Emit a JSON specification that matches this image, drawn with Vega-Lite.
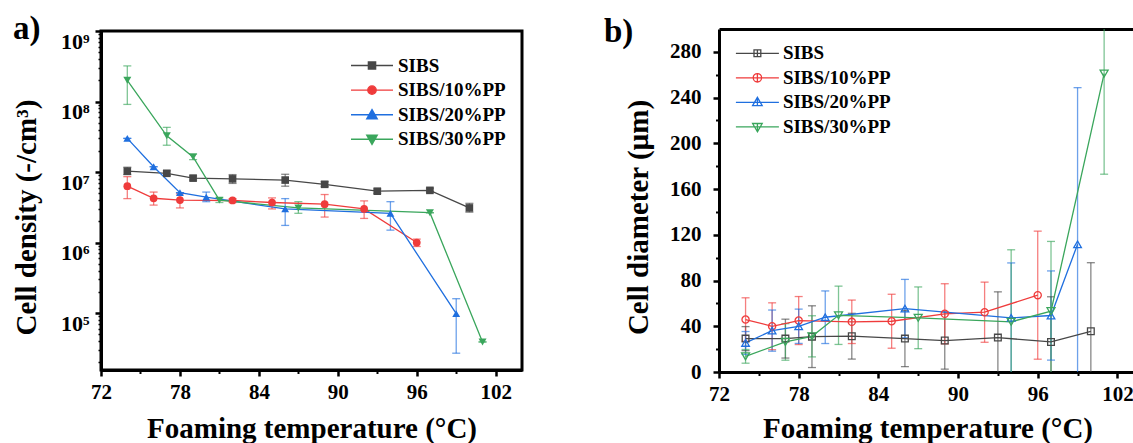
{
  "$schema": "https://vega.github.io/schema/vega-lite/v6.json",
  "background": "white",
  "padding": {"left": 10, "top": 11, "right": 0, "bottom": 0},
  "spacing": 197,
  "bounds": "flush",
  "center": true,
  "resolve": {"scale": {"color": "independent", "shape": "independent", "size": "independent", "fill": "independent", "stroke": "independent"}, "legend": {"color": "independent", "shape": "independent", "size": "independent", "fill": "independent", "stroke": "independent"}},
  "config": {
    "font": "Liberation Serif",
    "view": {"stroke": "black", "strokeWidth": 3},
    "axis": {"grid": false, "domainColor": "black", "domainWidth": 3, "tickColor": "black", "tickWidth": 2.5, "tickSize": 6,
      "labelFont": "Liberation Serif", "labelFontSize": 21, "labelFontWeight": "bold", "labelColor": "black",
      "titleFont": "Liberation Serif", "titleFontSize": 29, "titleFontWeight": "bold", "titleColor": "black",
      "labelFlush": false, "labelOverlap": false},
    "legend": {"labelFont": "Liberation Serif", "labelFontSize": 19, "labelFontWeight": "bold", "labelColor": "black", "padding": 0, "offset": 0, "symbolOffset": 0},
    "title": {"font": "Liberation Serif", "fontWeight": "bold", "color": "black", "fontSize": 33}
  },
  "datasets": {
    "density": [
      {"s": "SIBS", "T": 74, "v": 10300000, "lo": 9200000, "hi": 11700000},
      {"s": "SIBS", "T": 77, "v": 9600000, "lo": 8900000, "hi": 10400000},
      {"s": "SIBS", "T": 79, "v": 8200000, "lo": 7700000, "hi": 8800000},
      {"s": "SIBS", "T": 82, "v": 8000000, "lo": 6900000, "hi": 9200000},
      {"s": "SIBS", "T": 86, "v": 7700000, "lo": 6300000, "hi": 9300000},
      {"s": "SIBS", "T": 89, "v": 6700000, "lo": 6200000, "hi": 7300000},
      {"s": "SIBS", "T": 93, "v": 5350000, "lo": 5000000, "hi": 5750000},
      {"s": "SIBS", "T": 97, "v": 5500000, "lo": 5200000, "hi": 5900000},
      {"s": "SIBS", "T": 100, "v": 3100000, "lo": 2700000, "hi": 3600000},
      {"s": "SIBS/10%PP", "T": 74, "v": 6300000, "lo": 4200000, "hi": 8600000},
      {"s": "SIBS/10%PP", "T": 76, "v": 4250000, "lo": 3400000, "hi": 5200000},
      {"s": "SIBS/10%PP", "T": 78, "v": 4000000, "lo": 3100000, "hi": 4900000},
      {"s": "SIBS/10%PP", "T": 82, "v": 3950000, "lo": 3700000, "hi": 4200000},
      {"s": "SIBS/10%PP", "T": 85, "v": 3700000, "lo": 3000000, "hi": 4300000},
      {"s": "SIBS/10%PP", "T": 89, "v": 3500000, "lo": 2300000, "hi": 4800000},
      {"s": "SIBS/10%PP", "T": 92, "v": 3000000, "lo": 2200000, "hi": 3900000},
      {"s": "SIBS/10%PP", "T": 96, "v": 1000000, "lo": 880000, "hi": 1120000},
      {"s": "SIBS/20%PP", "T": 74, "v": 30000000, "lo": 30000000, "hi": 30000000},
      {"s": "SIBS/20%PP", "T": 76, "v": 11900000, "lo": 11900000, "hi": 11900000},
      {"s": "SIBS/20%PP", "T": 78, "v": 5100000, "lo": 5100000, "hi": 5100000},
      {"s": "SIBS/20%PP", "T": 80, "v": 4400000, "lo": 3800000, "hi": 5200000},
      {"s": "SIBS/20%PP", "T": 86, "v": 3000000, "lo": 1750000, "hi": 4200000},
      {"s": "SIBS/20%PP", "T": 94, "v": 2600000, "lo": 1500000, "hi": 3800000},
      {"s": "SIBS/20%PP", "T": 99, "v": 98000, "lo": 27000, "hi": 160000},
      {"s": "SIBS/30%PP", "T": 74, "v": 200000000, "lo": 91000000, "hi": 320000000},
      {"s": "SIBS/30%PP", "T": 77, "v": 32700000, "lo": 24000000, "hi": 43000000},
      {"s": "SIBS/30%PP", "T": 79, "v": 16400000, "lo": 15000000, "hi": 18000000},
      {"s": "SIBS/30%PP", "T": 81, "v": 4000000, "lo": 3700000, "hi": 4300000},
      {"s": "SIBS/30%PP", "T": 87, "v": 3100000, "lo": 2600000, "hi": 3800000},
      {"s": "SIBS/30%PP", "T": 97, "v": 2650000, "lo": 2650000, "hi": 2650000},
      {"s": "SIBS/30%PP", "T": 101, "v": 39000, "lo": 39000, "hi": 39000}
    ],
    "diameter": [
      {"s": "SIBS", "T": 74, "v": 29.2, "lo": 18.7, "hi": 39.7},
      {"s": "SIBS", "T": 77, "v": 29.2, "lo": 12.2, "hi": 46.2},
      {"s": "SIBS", "T": 79, "v": 30.9, "lo": 3.9, "hi": 57.9},
      {"s": "SIBS", "T": 82, "v": 31.3, "lo": 11.3, "hi": 51.3},
      {"s": "SIBS", "T": 86, "v": 29.2, "lo": 4.7, "hi": 53.7},
      {"s": "SIBS", "T": 89, "v": 27.5, "lo": 2.5, "hi": 52.5},
      {"s": "SIBS", "T": 93, "v": 30.1, "lo": -9.9, "hi": 70.1},
      {"s": "SIBS", "T": 97, "v": 26.3, "lo": -13.2, "hi": 65.8},
      {"s": "SIBS", "T": 100, "v": 35.6, "lo": -24.4, "hi": 95.6},
      {"s": "SIBS/10%PP", "T": 74, "v": 45.9, "lo": 26.9, "hi": 64.9},
      {"s": "SIBS/10%PP", "T": 76, "v": 40.0, "lo": 19.5, "hi": 60.5},
      {"s": "SIBS/10%PP", "T": 78, "v": 45.0, "lo": 24.0, "hi": 66.0},
      {"s": "SIBS/10%PP", "T": 82, "v": 43.9, "lo": 24.9, "hi": 62.9},
      {"s": "SIBS/10%PP", "T": 85, "v": 44.4, "lo": 20.8, "hi": 68.0},
      {"s": "SIBS/10%PP", "T": 89, "v": 50.9, "lo": 24.6, "hi": 77.2},
      {"s": "SIBS/10%PP", "T": 92, "v": 52.3, "lo": 26.0, "hi": 78.6},
      {"s": "SIBS/10%PP", "T": 96, "v": 67.2, "lo": 11.2, "hi": 123.2},
      {"s": "SIBS/20%PP", "T": 74, "v": 25.4, "lo": 15.4, "hi": 35.4},
      {"s": "SIBS/20%PP", "T": 76, "v": 36.2, "lo": 18.2, "hi": 54.2},
      {"s": "SIBS/20%PP", "T": 78, "v": 40.0, "lo": 25.0, "hi": 55.0},
      {"s": "SIBS/20%PP", "T": 80, "v": 47.9, "lo": 24.9, "hi": 70.9},
      {"s": "SIBS/20%PP", "T": 86, "v": 55.5, "lo": 30.0, "hi": 81.0},
      {"s": "SIBS/20%PP", "T": 94, "v": 47.4, "lo": -0.6, "hi": 95.4},
      {"s": "SIBS/20%PP", "T": 97, "v": 49.4, "lo": 10.4, "hi": 88.4},
      {"s": "SIBS/20%PP", "T": 99, "v": 111.7, "lo": -25.3, "hi": 248.7},
      {"s": "SIBS/30%PP", "T": 74, "v": 13.7, "lo": 7.7, "hi": 19.7},
      {"s": "SIBS/30%PP", "T": 77, "v": 26.3, "lo": 10.3, "hi": 42.3},
      {"s": "SIBS/30%PP", "T": 79, "v": 31.2, "lo": 13.2, "hi": 49.2},
      {"s": "SIBS/30%PP", "T": 81, "v": 49.6, "lo": 24.1, "hi": 75.1},
      {"s": "SIBS/30%PP", "T": 87, "v": 47.4, "lo": 20.4, "hi": 74.4},
      {"s": "SIBS/30%PP", "T": 94, "v": 43.9, "lo": -19.1, "hi": 106.9},
      {"s": "SIBS/30%PP", "T": 97, "v": 53.2, "lo": -7.8, "hi": 114.2},
      {"s": "SIBS/30%PP", "T": 101, "v": 261, "lo": 173, "hi": 349}
    ]
  },
  "hconcat": [
    {
      "width": 421,
      "height": 339,
      "data": {"name": "density"},
      "title": {"text": "a)", "anchor": "start", "frame": "group", "dx": -88, "offset": -42, "baseline": "alphabetic"},
      "resolve": {"axis": {"x": "independent", "y": "independent"}, "scale": {"shape": "independent", "size": "independent"},
        "legend": {"color": "independent", "shape": "independent", "size": "independent", "fill": "independent", "stroke": "independent"}},
      "layer": [
        {
          "mark": {"type": "rule", "strokeWidth": 1.3, "opacity": 0.65},
          "encoding": {
            "x": {"field": "T", "type": "quantitative", "scale": {"domain": [72, 104], "nice": false, "zero": false},
              "axis": {"orient": "bottom", "values": [72, 78, 84, 90, 96, 102], "title": "Foaming temperature (°C)", "titlePadding": 12, "labelPadding": 5}},
            "y": {"field": "lo", "type": "quantitative", "scale": {"type": "log", "domain": [15600, 1000000000], "nice": false},
              "axis": {"orient": "left", "values": [100000, 1000000, 10000000, 100000000, 1000000000], "title": "Cell density (-/cm³)", "titlePadding": 19, "titleY": 186, "labelPadding": 6, "labelOffset": 10, "labelFontSize": 22,
                "labelExpr": "datum.value >= 5e8 ? '10⁹' : datum.value >= 5e7 ? '10⁸' : datum.value >= 5e6 ? '10⁷' : datum.value >= 5e5 ? '10⁶' : '10⁵'"}},
            "y2": {"field": "hi"},
            "color": {"field": "s", "type": "nominal", "scale": {"domain": ["SIBS", "SIBS/10%PP", "SIBS/20%PP", "SIBS/30%PP"], "range": ["#474747", "#ef3b3b", "#1f6fdf", "#3aa65c"]}, "legend": null}
          }
        },
        {
          "mark": {"type": "rule", "strokeWidth": 1.3, "opacity": 0.65, "xOffset": -4, "x2Offset": 4},
          "encoding": {
            "x": {"field": "T", "type": "quantitative", "axis": {"orient": "bottom", "values": [75, 81, 87, 93, 99], "labels": false, "domain": false, "tickSize": 3.5, "tickWidth": 2, "title": null}},
            "x2": {"field": "T"},
            "y": {"field": "lo", "type": "quantitative", "axis": {"orient": "left", "labels": false, "domain": false, "tickSize": 3, "tickWidth": 1.5, "title": null,
              "values": [20000, 30000, 40000, 50000, 60000, 70000, 80000, 90000, 200000, 300000, 400000, 500000, 600000, 700000, 800000, 900000, 2000000, 3000000, 4000000, 5000000, 6000000, 7000000, 8000000, 9000000, 20000000, 30000000, 40000000, 50000000, 60000000, 70000000, 80000000, 90000000, 200000000, 300000000, 400000000, 500000000, 600000000, 700000000, 800000000, 900000000]}},
            "color": {"field": "s", "type": "nominal", "legend": null}
          }
        },
        {
          "mark": {"type": "rule", "strokeWidth": 1.3, "opacity": 0.65, "xOffset": -4, "x2Offset": 4},
          "encoding": {
            "x": {"field": "T", "type": "quantitative", "axis": null},
            "x2": {"field": "T"},
            "y": {"field": "hi", "type": "quantitative", "axis": null},
            "color": {"field": "s", "type": "nominal", "legend": null}
          }
        },
        {
          "mark": {"type": "line", "strokeWidth": 1.3},
          "encoding": {
            "x": {"field": "T", "type": "quantitative", "axis": null},
            "y": {"field": "v", "type": "quantitative", "axis": null},
            "color": {"field": "s", "type": "nominal", "legend": null}
          }
        },
        {
          "mark": {"type": "point", "filled": true, "opacity": 1},
          "encoding": {
            "x": {"field": "T", "type": "quantitative", "axis": null},
            "y": {"field": "v", "type": "quantitative", "axis": null},
            "shape": {"field": "s", "type": "nominal", "scale": {"domain": ["SIBS", "SIBS/10%PP", "SIBS/20%PP", "SIBS/30%PP"], "range": ["square", "circle", "triangle-up", "triangle-down"]}, "legend": null},
            "size": {"field": "s", "type": "nominal", "scale": {"domain": ["SIBS", "SIBS/10%PP", "SIBS/20%PP", "SIBS/30%PP"], "range": [58, 64, 105, 115]}, "legend": null},
            "color": {"field": "s", "type": "nominal", "legend": null}
          }
        },
        {
          "transform": [{"filter": "false"}],
          "mark": {"type": "point", "filled": true},
          "encoding": {
            "x": {"field": "T", "type": "quantitative", "axis": null},
            "y": {"field": "v", "type": "quantitative", "axis": null},
            "fill": {"field": "s", "type": "nominal", "scale": {"domain": ["SIBS", "SIBS/10%PP", "SIBS/20%PP", "SIBS/30%PP"], "range": ["#474747", "#ef3b3b", "#1f6fdf", "#3aa65c"]},
              "legend": {"orient": "none", "legendX": 260, "legendY": 23.5, "title": null, "symbolSize": 400, "symbolStrokeWidth": 1.4, "symbolOpacity": 1, "labelOffset": 15, "rowPadding": 3.6}},
            "stroke": {"field": "s", "type": "nominal", "scale": {"domain": ["SIBS", "SIBS/10%PP", "SIBS/20%PP", "SIBS/30%PP"], "range": ["#474747", "#ef3b3b", "#1f6fdf", "#3aa65c"]},
              "legend": {"orient": "none", "legendX": 260, "legendY": 23.5, "title": null, "symbolSize": 400, "symbolStrokeWidth": 1.4, "symbolOpacity": 1, "labelOffset": 15, "rowPadding": 3.6}},
            "shape": {"field": "s", "type": "nominal", "scale": {"domain": ["SIBS", "SIBS/10%PP", "SIBS/20%PP", "SIBS/30%PP"],
              "range": ["M-2.1,0H2.1M-0.36,-0.36H0.36V0.36H-0.36Z", "M-2.1,0H2.1M0.42,0A0.42,0.42,0,1,1,-0.42,0A0.42,0.42,0,1,1,0.42,0Z", "M-2.1,0H2.1M0,-0.5L0.52,0.4L-0.52,0.4Z", "M-2.1,0H2.1M0,0.5L0.52,-0.4L-0.52,-0.4Z"]},
              "legend": {"orient": "none", "legendX": 260, "legendY": 23.5, "title": null, "symbolSize": 400, "symbolStrokeWidth": 1.4, "symbolOpacity": 1, "labelOffset": 15, "rowPadding": 3.6}}
          }
        }
      ]
    },
    {
      "width": 417,
      "height": 343,
      "data": {"name": "diameter"},
      "view": {"stroke": null},
      "title": {"text": "b)", "anchor": "start", "frame": "group", "dx": -115, "offset": -46, "baseline": "alphabetic"},
      "resolve": {"axis": {"x": "independent", "y": "independent"}, "scale": {"shape": "independent", "size": "independent"},
        "legend": {"color": "independent", "shape": "independent", "size": "independent", "fill": "independent", "stroke": "independent"}},
      "layer": [
        {
          "mark": {"type": "rule", "strokeWidth": 1.3, "opacity": 0.65, "clip": true},
          "encoding": {
            "x": {"field": "T", "type": "quantitative", "scale": {"domain": [72, 103.4], "nice": false, "zero": false},
              "axis": {"orient": "bottom", "values": [72, 78, 84, 90, 96, 102], "title": "Foaming temperature (°C)", "titlePadding": 10, "labelPadding": 5}},
            "y": {"field": "lo", "type": "quantitative", "scale": {"domain": [0, 300], "nice": false},
              "axis": {"orient": "left", "values": [0, 40, 80, 120, 160, 200, 240, 280], "title": "Cell diameter (µm)", "titlePadding": 16, "titleY": 188, "labelPadding": 12}},
            "y2": {"field": "hi"},
            "color": {"field": "s", "type": "nominal", "scale": {"domain": ["SIBS", "SIBS/10%PP", "SIBS/20%PP", "SIBS/30%PP"], "range": ["#474747", "#ef3b3b", "#1f6fdf", "#3aa65c"]}, "legend": null}
          }
        },
        {
          "mark": {"type": "rule", "strokeWidth": 1.3, "opacity": 0.65, "clip": true, "xOffset": -4, "x2Offset": 4},
          "encoding": {
            "x": {"field": "T", "type": "quantitative", "axis": {"orient": "bottom", "values": [75, 81, 87, 93, 99], "labels": false, "domain": false, "tickSize": 3.5, "tickWidth": 2, "title": null}},
            "x2": {"field": "T"},
            "y": {"field": "lo", "type": "quantitative", "axis": {"orient": "left", "values": [20, 60, 100, 140, 180, 220, 260], "labels": false, "domain": false, "tickSize": 3.5, "tickWidth": 2, "title": null}},
            "color": {"field": "s", "type": "nominal", "legend": null}
          }
        },
        {
          "mark": {"type": "rule", "strokeWidth": 1.3, "opacity": 0.65, "clip": true, "xOffset": -4, "x2Offset": 4},
          "encoding": {
            "x": {"field": "T", "type": "quantitative", "axis": {"orient": "top", "labels": false, "ticks": false, "domain": true, "title": null}},
            "x2": {"field": "T"},
            "y": {"field": "hi", "type": "quantitative", "axis": null},
            "color": {"field": "s", "type": "nominal", "legend": null}
          }
        },
        {
          "mark": {"type": "line", "strokeWidth": 1.3, "clip": true},
          "encoding": {
            "x": {"field": "T", "type": "quantitative", "axis": null},
            "y": {"field": "v", "type": "quantitative", "axis": null},
            "color": {"field": "s", "type": "nominal", "legend": null}
          }
        },
        {
          "mark": {"type": "point", "filled": false, "opacity": 1, "strokeWidth": 1.3, "clip": true},
          "encoding": {
            "x": {"field": "T", "type": "quantitative", "axis": null},
            "y": {"field": "v", "type": "quantitative", "axis": null},
            "shape": {"field": "s", "type": "nominal", "scale": {"domain": ["SIBS", "SIBS/10%PP", "SIBS/20%PP", "SIBS/30%PP"], "range": ["square", "circle", "triangle-up", "triangle-down"]}, "legend": null},
            "size": {"field": "s", "type": "nominal", "scale": {"domain": ["SIBS", "SIBS/10%PP", "SIBS/20%PP", "SIBS/30%PP"], "range": [45, 64, 86, 100]}, "legend": null},
            "color": {"field": "s", "type": "nominal", "legend": null}
          }
        },
        {
          "transform": [{"filter": "false"}],
          "mark": {"type": "point", "filled": false},
          "encoding": {
            "x": {"field": "T", "type": "quantitative", "axis": null},
            "y": {"field": "v", "type": "quantitative", "axis": null},
            "stroke": {"field": "s", "type": "nominal", "scale": {"domain": ["SIBS", "SIBS/10%PP", "SIBS/20%PP", "SIBS/30%PP"], "range": ["#474747", "#ef3b3b", "#1f6fdf", "#3aa65c"]},
              "legend": {"orient": "none", "legendX": 27.4, "legendY": 13.3, "title": null, "symbolSize": 400, "symbolStrokeWidth": 1.3, "symbolOpacity": 1, "symbolFillColor": "transparent", "labelOffset": 14.5, "rowPadding": 3.5}},
            "shape": {"field": "s", "type": "nominal", "scale": {"domain": ["SIBS", "SIBS/10%PP", "SIBS/20%PP", "SIBS/30%PP"],
              "range": ["M-2.15,0H2.15M-0.34,-0.34H0.34V0.34H-0.34ZM0,-0.34V0.34", "M-2.15,0H2.15M0.42,0A0.42,0.42,0,1,1,-0.42,0A0.42,0.42,0,1,1,0.42,0ZM0,-0.42V0.42", "M-2.15,0H2.15M0,-0.5L0.48,0.33L-0.48,0.33ZM0,-0.5V0.33", "M-2.15,0H2.15M0,0.5L0.48,-0.33L-0.48,-0.33ZM0,0.5V-0.33"]},
              "legend": {"orient": "none", "legendX": 27.4, "legendY": 13.3, "title": null, "symbolSize": 400, "symbolStrokeWidth": 1.3, "symbolOpacity": 1, "symbolFillColor": "transparent", "labelOffset": 14.5, "rowPadding": 3.5}}
          }
        }
      ]
    }
  ]
}
